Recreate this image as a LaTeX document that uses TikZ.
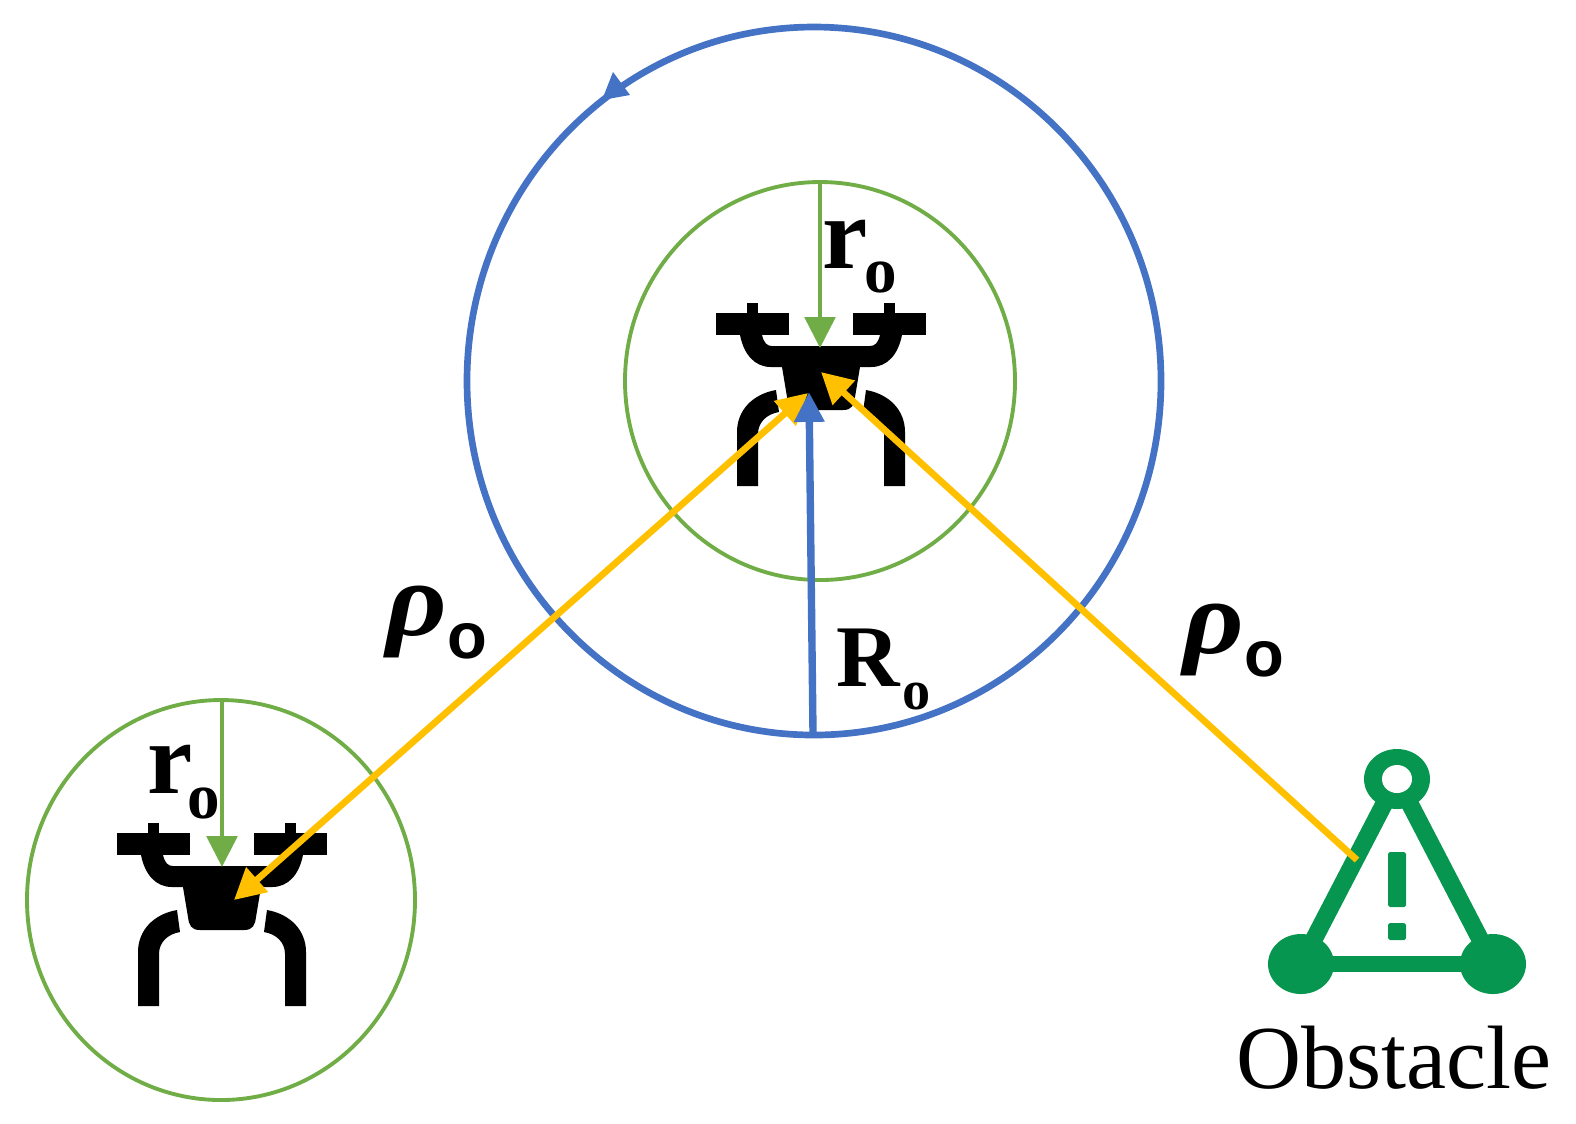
\documentclass[tikz,border=0pt]{standalone}
\usepackage{fontspec}
\setmainfont{Liberation Serif}
\setsansfont{Liberation Sans}
\usetikzlibrary{arrows.meta}
\definecolor{orbitblue}{RGB}{68,114,196}
\definecolor{safegreen}{RGB}{112,173,71}
\definecolor{rangegold}{RGB}{255,192,0}
\definecolor{hazardgreen}{RGB}{7,150,80}
\tikzset{
  uav/.pic={
    % body and rotor arms, origin at the middle of the arm's upper edge
    \fill (-105,-33) rectangle (-32,-11); \fill (32,-33) rectangle (105,-11);
    \fill (-74,-43) rectangle (-63,-33); \fill (63,-43) rectangle (74,-33);
    \fill (-81,-11) .. controls (-77,9) and (-66,21) .. (-50,21) -- (-39,21) -- (-34,51)
      .. controls (-33,59) and (-31,64) .. (-22,64) -- (22,64) .. controls (31,64) and (33,59) .. (34,51)
      -- (39,21) -- (50,21) .. controls (66,21) and (77,9) .. (81,-11) -- (59,-11)
      .. controls (57,-3) and (54,0) .. (49,0) -- (-49,0) .. controls (-54,0) and (-57,-3) .. (-59,-11) -- cycle;
    \fill (-84,140) -- (-84,86) .. controls (-84,64) and (-68,48) .. (-45,44) -- (-42,66)
      .. controls (-54,68) and (-63,76) .. (-63,88) -- (-63,140) -- cycle;
    \fill (84,140) -- (84,86) .. controls (84,64) and (68,48) .. (45,44) -- (42,66)
      .. controls (54,68) and (63,76) .. (63,88) -- (63,140) -- cycle;
  },
  goldtip/.tip={Triangle[length=8.8pt,width=9pt]},
  rangeline/.style={rangegold,line width=1.9pt},
  lbl/.style={inner sep=0pt,anchor=base west}
}
\begin{document}
\begin{tikzpicture}[x=0.01cm,y=-0.01cm]
  \useasboundingbox (0,0) rectangle (1576,1123);
  \coordinate (C1) at (820,381); \coordinate (C2) at (221,900); \coordinate (C3) at (814,381);
  \coordinate (Uav1) at (821,346); \coordinate (Uav2) at (222,866);
  \pic at (Uav1) {uav}; \pic at (Uav2) {uav};
  % circles
  \draw[orbitblue,line width=1.9pt] (C3) ellipse (347 and 354);
  \draw[safegreen,line width=1.1pt] (C1) ellipse (195 and 199);
  \draw[safegreen,line width=1.1pt] (C2) ellipse (194 and 200);
  \fill[orbitblue] (613,72) -- (630,95) -- (602,100) -- cycle;
  % obstacle
  \coordinate (Top) at (1397,779); \coordinate (Lft) at (1301,964); \coordinate (Rgt) at (1493,964);
  \begin{scope}[hazardgreen]
    \draw[line width=5pt] (Lft) -- (Top) -- (Rgt);
    \draw[line width=4.5pt] (Lft) -- (Rgt);
    \fill (Top) ellipse (33 and 30);
    \fill[white] (Top) ellipse (15 and 14);
    \fill (Lft) ellipse (33 and 30); \fill (Rgt) ellipse (33 and 30);
    \fill[rounded corners=0.5pt] (1388,852) rectangle (1406,907);
    \fill[rounded corners=0.5pt] (1388,923) rectangle (1406,940);
  \end{scope}
  % radii
  \coordinate (GreenTop1) at (820,182); \coordinate (GreenTip1) at (820,348);
  \coordinate (GreenTop2) at (222,700); \coordinate (GreenTip2) at (222,867);
  \coordinate (BlueFoot) at (813,733); \coordinate (BlueTip) at (809,392);
  \coordinate (GoldA) at (808,393); \coordinate (GoldB) at (234,900);
  \coordinate (GoldC) at (821,372); \coordinate (GoldD) at (1357,860);
  \draw[safegreen,line width=1.4pt,-{Triangle[length=8.8pt,width=8.6pt]}] (GreenTop1) -- (GreenTip1);
  \draw[safegreen,line width=1.4pt,-{Triangle[length=8.8pt,width=8.6pt]}] (GreenTop2) -- (GreenTip2);
  \draw[rangeline,{goldtip}-{goldtip}] (GoldB) -- (GoldA);
  \draw[rangeline,-{goldtip}] (GoldD) -- (GoldC);
  \draw[orbitblue,line width=2.1pt,-{Triangle[length=8.5pt,width=8.2pt]}] (BlueFoot) -- (BlueTip);
  % labels
  \node[lbl,font=\fontsize{29}{29}\bfseries\selectfont] (r1) at (822,268) {r};
  \node[lbl,font=\fontsize{18.5}{18.5}\bfseries\selectfont] (o1) at (864,292) {o};
  \node[lbl,font=\fontsize{29}{29}\bfseries\selectfont] (r2) at (147,793) {r};
  \node[lbl,font=\fontsize{18.5}{18.5}\bfseries\selectfont] (o2) at (187,818) {o};
  \node[lbl,font=\fontsize{25}{25}\bfseries\selectfont] (R1) at (836,686) {R};
  \node[lbl,font=\fontsize{16}{16}\bfseries\selectfont] (o3) at (902,709) {o};
  \node[lbl,font=\fontsize{30}{30}\bfseries\itshape\selectfont] (p1) at (386,635) {\scalebox{1.12}[1]{ρ}};
  \node[lbl,font=\fontsize{18.5}{18.5}\sffamily\bfseries\selectfont] (o4) at (447,658) {o};
  \node[lbl,font=\fontsize{30}{30}\bfseries\itshape\selectfont] (p2) at (1183,653) {\scalebox{1.12}[1]{ρ}};
  \node[lbl,font=\fontsize{18.5}{18.5}\sffamily\bfseries\selectfont] (o5) at (1244,676) {o};
  \node[lbl,font=\fontsize{25.6}{25.6}\selectfont] (obs) at (1236,1088) {Obstacle};
\end{tikzpicture}
\end{document}
